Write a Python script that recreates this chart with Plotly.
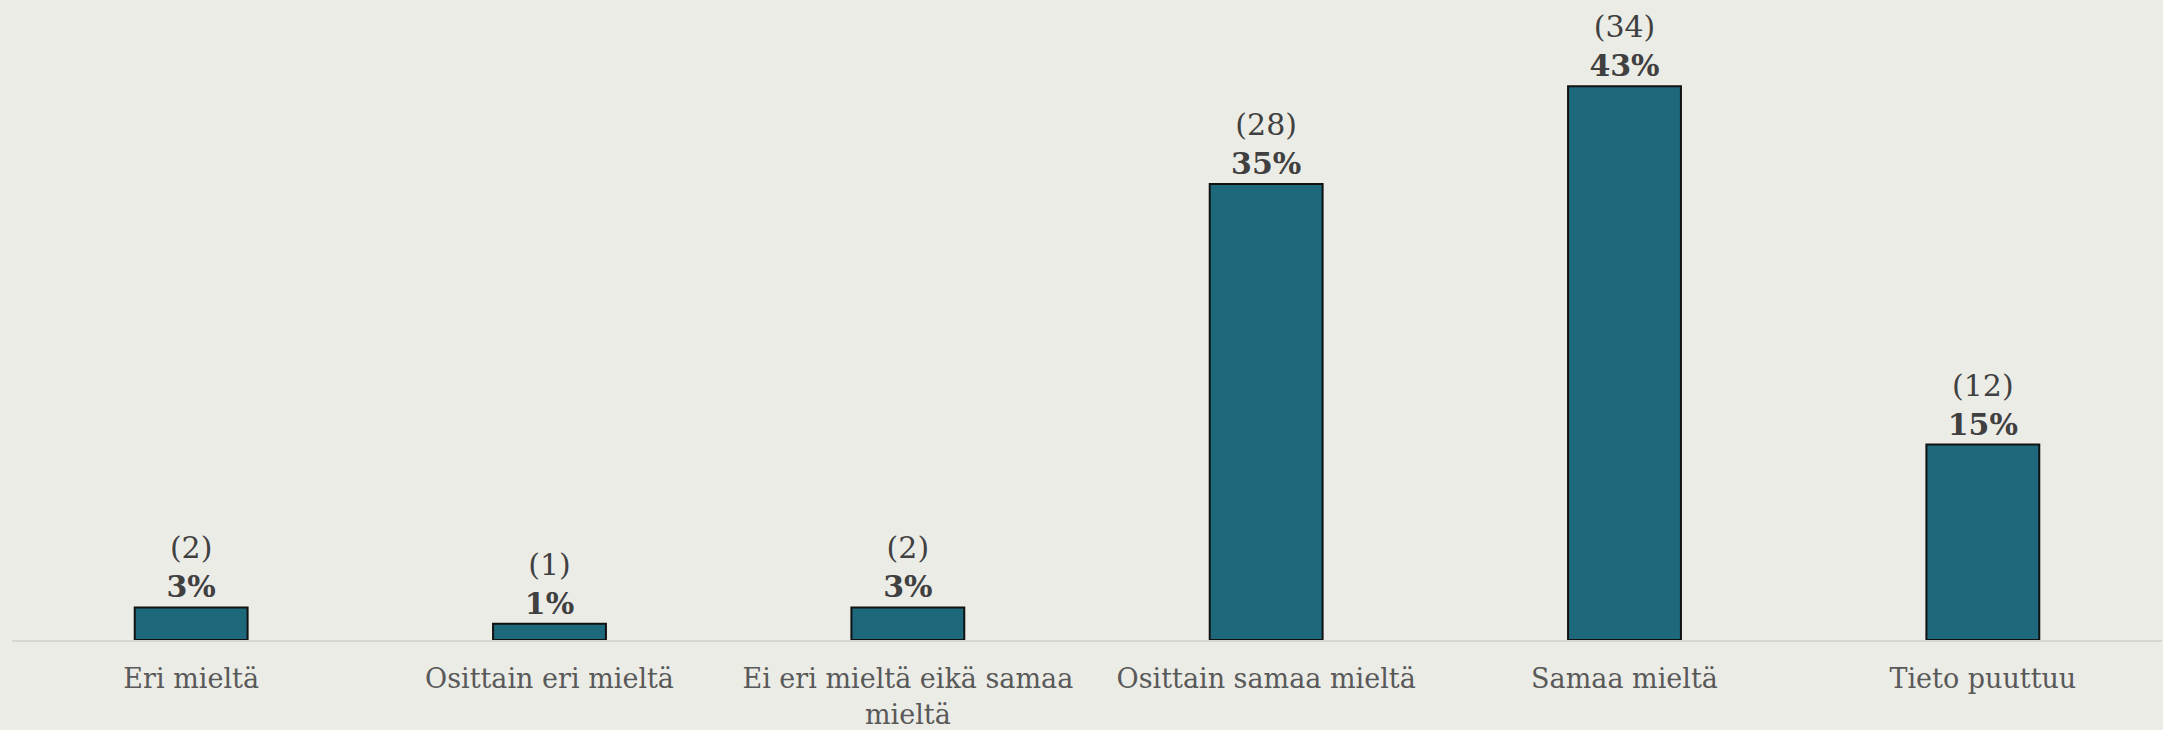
import plotly.graph_objects as go

categories = ["Eri mieltä", "Osittain eri mieltä", "Ei eri mieltä eikä samaa<br>mieltä",
              "Osittain samaa mieltä", "Samaa mieltä", "Tieto puuttuu"]
counts = [2, 1, 2, 28, 34, 12]
percents = [3, 1, 3, 35, 43, 15]

labels = [f"({c})<br><b>{p}%</b>" for c, p in zip(counts, percents)]

FONT = "Georgia, 'DejaVu Serif', serif"

fig = go.Figure(go.Bar(
    x=categories,
    y=counts,
    text=labels,
    textposition="outside",
    constraintext="none",
    cliponaxis=False,
    textfont=dict(family=FONT, size=30, color="#404040"),
    marker=dict(color="#1d687b", line=dict(color="#111111", width=2)),
    width=0.315,
    hoverinfo="skip",
))

fig.update_layout(
    width=2163, height=730,
    paper_bgcolor="#ecece7",
    plot_bgcolor="#ecece7",
    margin=dict(l=12, r=1, t=0, b=87),
    showlegend=False,
    font=dict(family=FONT),
    xaxis=dict(
        showline=True, linecolor="#d6d6d2", linewidth=2,
        showgrid=False, zeroline=False,
        ticks="outside", ticklen=14, tickcolor="rgba(0,0,0,0)",
        tickfont=dict(family=FONT, size=27, color="#595959"),
        fixedrange=True,
    ),
    yaxis=dict(
        range=[0, 39.3], visible=False, showgrid=False, zeroline=False,
        fixedrange=True,
    ),
)

fig.write_html(
    "out.html",
    config={"displayModeBar": False, "staticPlot": True},
    post_script="document.body.style.margin='0';document.body.style.overflow='hidden';document.body.style.background='#ecece7';",
)
